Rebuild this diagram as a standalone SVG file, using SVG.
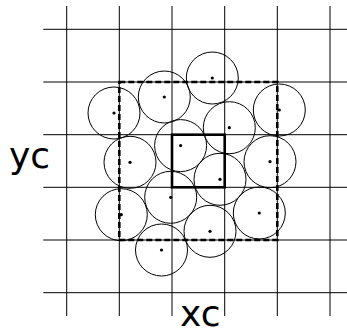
<svg xmlns="http://www.w3.org/2000/svg" width="347" height="328" viewBox="0 0 347 328">
<style>
.grid line{stroke:#000;stroke-width:1}
.c{fill:none;stroke:#000;stroke-width:1}
.d{fill:#000}
.lbl{font-family:"DejaVu Sans",sans-serif;font-size:36px;fill:#000}
</style>
<rect width="347" height="328" fill="#fff"/>
<g id="grid" class="grid">
<line x1="66.7" y1="6" x2="66.7" y2="316"/>
<line x1="119.3" y1="6" x2="119.3" y2="316"/>
<line x1="172" y1="6" x2="172" y2="316"/>
<line x1="224.7" y1="6" x2="224.7" y2="316"/>
<line x1="277.3" y1="6" x2="277.3" y2="316"/>
<line x1="330" y1="6" x2="330" y2="316"/>
<line x1="43.3" y1="29.3" x2="347" y2="29.3"/>
<line x1="43.3" y1="82" x2="347" y2="82"/>
<line x1="43.3" y1="134.7" x2="347" y2="134.7"/>
<line x1="43.3" y1="187.3" x2="347" y2="187.3"/>
<line x1="43.3" y1="240" x2="347" y2="240"/>
<line x1="43.3" y1="292.7" x2="347" y2="292.7"/>
</g>
<g id="circles">
<g id="p1"><circle class="c" cx="114" cy="113" r="26"/><circle class="d" cx="114" cy="113" r="1.6"/></g>
<g id="p2"><circle class="c" cx="164.3" cy="97" r="26"/><circle class="d" cx="164.3" cy="97" r="1.6"/></g>
<g id="p3"><circle class="c" cx="212.3" cy="78" r="26"/><circle class="d" cx="212.3" cy="78" r="1.6"/></g>
<g id="p4"><circle class="c" cx="279.3" cy="110" r="26"/><circle class="d" cx="279.3" cy="110" r="1.6"/></g>
<g id="p5"><circle class="c" cx="229.3" cy="127.7" r="26"/><circle class="d" cx="229.3" cy="127.7" r="1.6"/></g>
<g id="p6"><circle class="c" cx="180.6" cy="145.6" r="26"/><circle class="d" cx="180.6" cy="145.6" r="1.6"/></g>
<g id="p7"><circle class="c" cx="130" cy="162.3" r="26"/><circle class="d" cx="130" cy="162.3" r="1.6"/></g>
<g id="p8"><circle class="c" cx="270" cy="161.7" r="26"/><circle class="d" cx="270" cy="161.7" r="1.6"/></g>
<g id="p9"><circle class="c" cx="220" cy="179.3" r="26"/><circle class="d" cx="220" cy="179.3" r="1.6"/></g>
<g id="p10"><circle class="c" cx="170.7" cy="197.3" r="26"/><circle class="d" cx="170.7" cy="197.3" r="1.6"/></g>
<g id="p11"><circle class="c" cx="121.3" cy="214.7" r="26"/><circle class="d" cx="121.3" cy="214.7" r="1.6"/></g>
<g id="p12"><circle class="c" cx="259.3" cy="213" r="26"/><circle class="d" cx="259.3" cy="213" r="1.6"/></g>
<g id="p13"><circle class="c" cx="210" cy="231.3" r="26"/><circle class="d" cx="210" cy="231.3" r="1.6"/></g>
<g id="p14"><circle class="c" cx="161.5" cy="250" r="26"/><circle class="d" cx="161.5" cy="250" r="1.6"/></g>
</g>
<g id="region">
<rect x="119.3" y="82" width="158" height="158" fill="none" stroke="#000" stroke-width="2.6" stroke-dasharray="6,3"/>
</g>
<g id="cell">
<rect x="172" y="134.7" width="52.7" height="52.6" fill="none" stroke="#000" stroke-width="2.6"/>
</g>
<text class="lbl" x="9" y="167.5">yc</text>
<text class="lbl" x="180" y="326">xc</text>
</svg>
